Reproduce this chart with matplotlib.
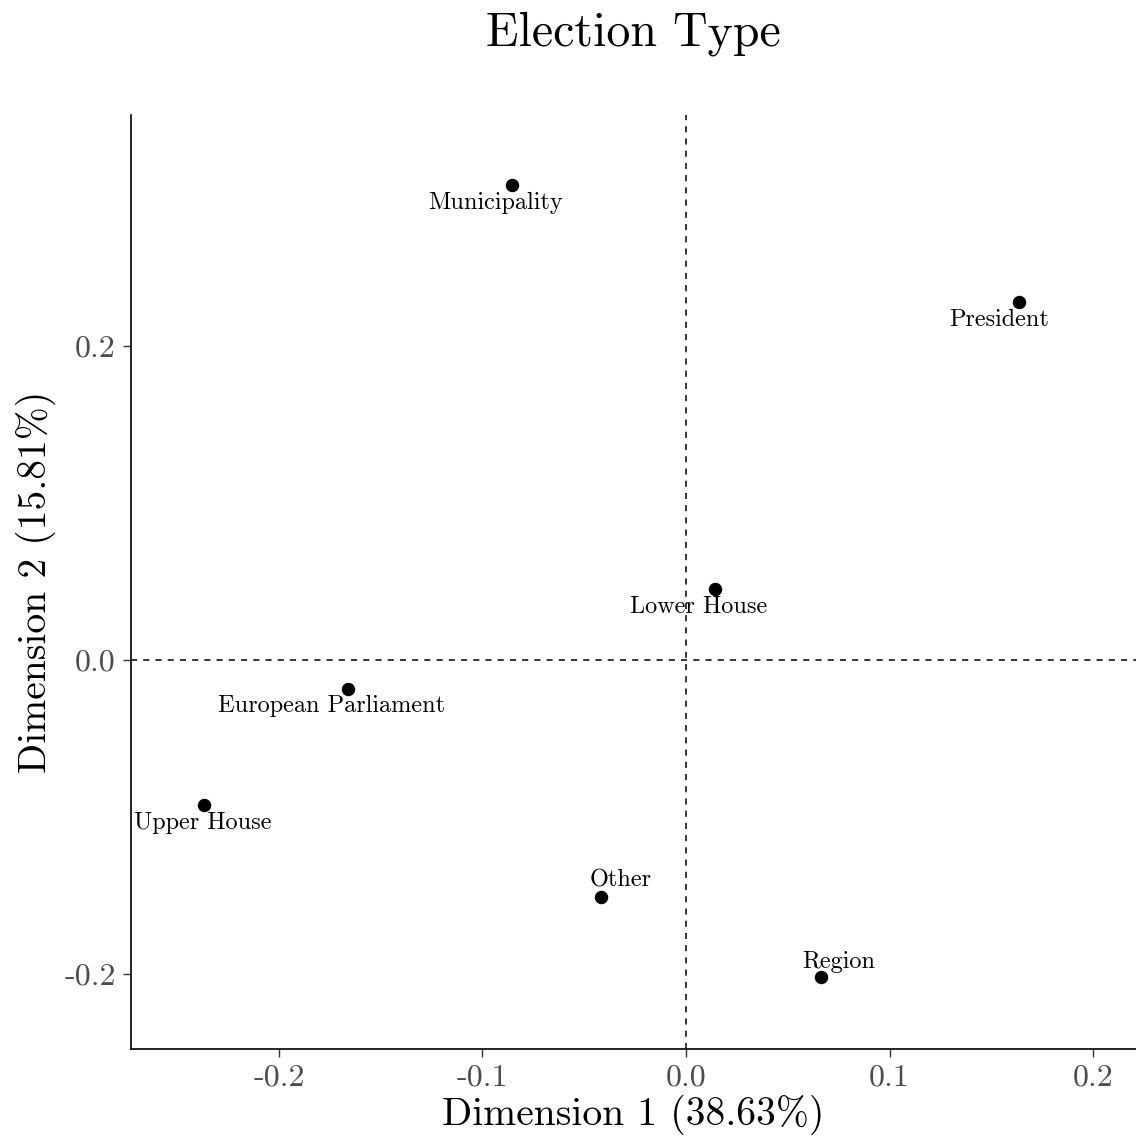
import matplotlib.pyplot as plt

plt.rcParams['font.family'] = ['cmr10', 'DejaVu Serif']
plt.rcParams['mathtext.fontset'] = 'cm'
plt.rcParams['axes.unicode_minus'] = False
plt.rcParams['axes.formatter.use_mathtext'] = True

names = ['Municipality', 'President', 'Lower House', 'European Parliament',
         'Upper House', 'Other', 'Region']
dim1 = [-0.0855, 0.1636, 0.0143, -0.1661, -0.2369, -0.0418, 0.0663]
dim2 = [0.3025, 0.2280, 0.0452, -0.0185, -0.0924, -0.1510, -0.2019]
# label offsets in points (repelled labels)
offsets = [(-12, -13), (-14, -13), (-12, -13), (-12, -12),
           (-1, -13), (14, 12), (13, 11)]

fig, ax = plt.subplots(figsize=(11.36, 11.38), dpi=100)
fig.subplots_adjust(left=0.1153, right=1.0, top=0.899, bottom=0.078)

ax.axhline(0, color='black', linestyle=(0, (4, 4)), linewidth=1.1, zorder=1)
ax.axvline(0, color='black', linestyle=(0, (4, 4)), linewidth=1.1, zorder=1)

for name, x, y, off in zip(names, dim1, dim2, offsets):
    ax.annotate(name, (x, y), xytext=off, textcoords='offset points',
                ha='center', va='center', fontsize=17.5, zorder=2)
ax.scatter(dim1, dim2, s=75, color='black', zorder=3)

ax.set_xlim(-0.2727, 0.2211)
ax.set_ylim(-0.2478, 0.3471)
ax.set_xticks([-0.2, -0.1, 0.0, 0.1, 0.2])
ax.set_xticklabels(['-0.2', '-0.1', '0.0', '0.1', '0.2'])
ax.set_yticks([-0.2, 0.0, 0.2])
ax.set_yticklabels(['-0.2', '0.0', '0.2'])
ax.tick_params(labelsize=23, labelcolor='#4D4D4D', color='#333333',
               length=6, width=1, pad=5)

ax.spines['top'].set_visible(False)
ax.spines['right'].set_visible(False)
ax.spines['left'].set_linewidth(1.2)
ax.spines['bottom'].set_linewidth(1.2)

ax.set_xlabel('Dimension 1 (38.63%)', fontsize=28.5, labelpad=2)
ax.set_ylabel('Dimension 2 (15.81%)', fontsize=28.5, labelpad=6)
ax.set_title('Election Type', fontsize=34.5, pad=50)

fig.savefig('out.png')
